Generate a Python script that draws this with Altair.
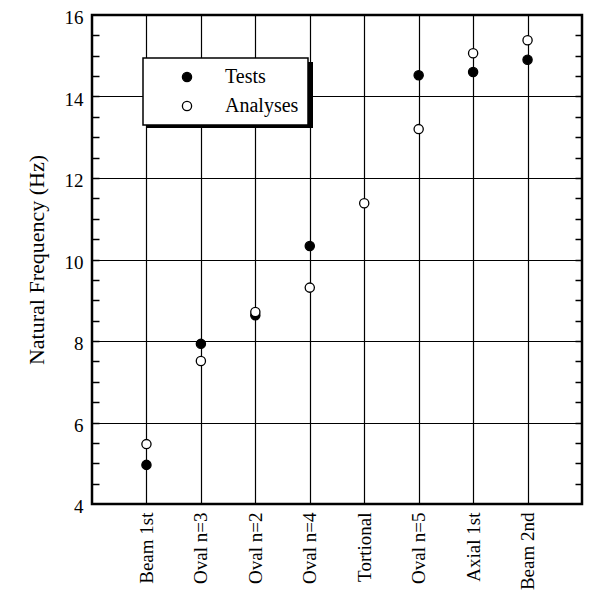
import altair as alt
import pandas as pd

modes = ["Beam 1st", "Oval n=3", "Oval n=2", "Oval n=4", "Tortional",
         "Oval n=5", "Axial 1st", "Beam 2nd"]
tests = [4.96, 7.93, 8.63, 10.33, None, 14.52, 14.60, 14.90]
analyses = [5.47, 7.51, 8.71, 9.31, 11.38, 13.20, 15.06, 15.38]
major_ticks = [4, 6, 8, 10, 12, 14, 16]
minor_ticks = [4.5, 5, 5.5, 6, 6.5, 7, 7.5, 8, 8.5, 9, 9.5, 10, 10.5, 11,
               11.5, 12, 12.5, 13, 13.5, 14, 14.5, 15, 15.5]
series = ["Tests", "Analyses"]

rows = []
for m, t, a in zip(modes, tests, analyses):
    if t is not None:
        rows.append({"mode": m, "series": "Tests", "value": t})
    if a is not None:
        rows.append({"mode": m, "series": "Analyses", "value": a})
df = pd.DataFrame(rows)

W, H = 490, 489
FONT = "Liberation Serif"
yscale = alt.Scale(domain=[4, 16], nice=False, zero=False)
xenc = alt.X("mode:N", sort=modes, scale=alt.Scale(padding=1),
             axis=alt.Axis(title=None, labelAngle=270, labelFontSize=19,
                           labelFont=FONT, labelColor="black", labelPadding=8,
                           domain=False, ticks=False, grid=True,
                           gridColor="black", gridWidth=1.2, gridOpacity=1))

shadow = alt.Chart(alt.Data(values=[{}])).mark_rect(color="black").encode(
    x=alt.value(55), x2=alt.value(221), y=alt.value(47), y2=alt.value(113))

points = alt.Chart(df).mark_point(filled=True, size=85, stroke="black",
                                  strokeWidth=1.3, opacity=1, shape="circle").encode(
    x=xenc,
    y=alt.Y("value:Q", scale=yscale,
            axis=alt.Axis(title="Natural Frequency (Hz)", values=major_ticks,
                          titleFont=FONT, titleFontSize=22, titleFontWeight="normal",
                          titleColor="black", titlePadding=16,
                          labelFont=FONT, labelFontSize=19, labelColor="black",
                          labelPadding=9, labelOffset=2.5, ticks=False,
                          domain=False, grid=True, gridColor="black",
                          gridWidth=1.2, gridOpacity=1)),
    fill=alt.Fill("series:N", sort=series,
                  scale=alt.Scale(domain=series, range=["black", "white"]),
                  legend=alt.Legend(title=None, orient="none", legendX=51,
                                    legendY=43, padding=9, fillColor="white",
                                    strokeColor="black",
                                    labelFont=FONT, labelFontSize=20,
                                    labelColor="black", symbolSize=85,
                                    symbolStrokeColor="black",
                                    symbolStrokeWidth=1.3, symbolType="circle",
                                    symbolOffset=25, labelOffset=28,
                                    rowPadding=9)),
)

left_minor = alt.Chart(df).mark_point(opacity=0).encode(
    x=alt.X("mode:N", sort=modes),
    y=alt.Y("value:Q", scale=yscale,
            axis=alt.Axis(orient="right", offset=-W, values=minor_ticks,
                          labels=False, title=None, domain=False, grid=False,
                          tickSize=7, tickWidth=1.5, tickColor="black")))

right_minor = alt.Chart(df).mark_point(opacity=0).encode(
    x=alt.X("mode:N", sort=modes),
    y=alt.Y("value:Q", scale=yscale,
            axis=alt.Axis(orient="left", offset=-W, values=minor_ticks,
                          labels=False, title=None, domain=False, grid=False,
                          tickSize=7, tickWidth=1.5, tickColor="black")))

chart = alt.layer(points, left_minor, right_minor, shadow).resolve_scale(
    y="independent"
).properties(
    width=W, height=H,
    autosize=alt.AutoSizeParams(type="none"),
    padding={"left": 84, "top": 7, "right": 2, "bottom": 86},
    background="white",
).configure_view(stroke="black", strokeWidth=2.5).configure_legend(
    strokeWidth=1.5)

chart.save("out.html", embed_options={"renderer": "svg", "actions": False})
